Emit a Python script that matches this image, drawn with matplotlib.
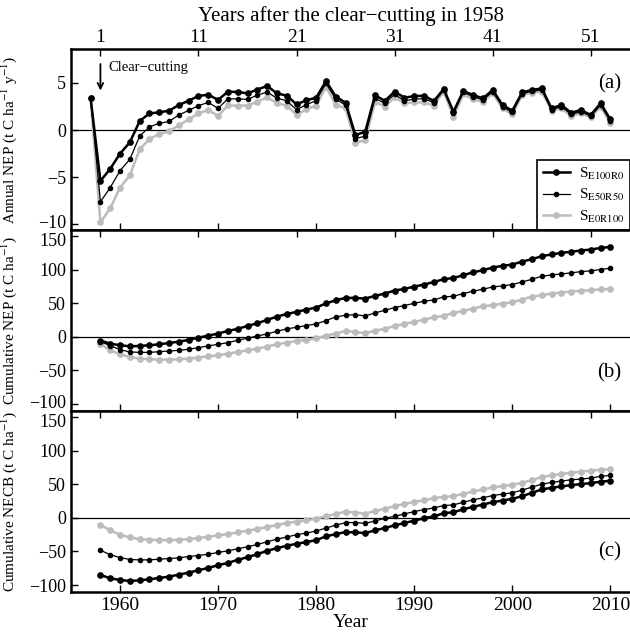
import numpy as np
import matplotlib
matplotlib.use("Agg")
import matplotlib.pyplot as plt
from matplotlib.transforms import ScaledTranslation

plt.rcParams["font.family"] = ["Liberation Serif", "DejaVu Serif"]
plt.rcParams["mathtext.fontset"] = "stix"
plt.rcParams["axes.unicode_minus"] = True

# Годы
years_a = np.arange(1957, 2011)
years_bc = np.arange(1958, 2011)

# (a) Annual NEP
nep_e100r0 = [3.4, -5.4, -4.1, -2.5, -1.3, 0.96, 1.77, 1.88, 2.06, 2.66, 3.12, 3.62, 3.76,
              3.2, 4.08, 4.04, 3.9, 4.3, 4.68, 3.9, 3.65, 2.73, 3.16,
              3.44, 5.2, 3.55, 2.9, -0.53, -0.18, 3.7, 3.1, 4.08, 3.44,
              3.6, 3.65, 3.08, 4.36, 1.95, 4.15, 3.72, 3.37, 4.25, 2.66,
              2.06, 4.0, 4.25, 4.43, 2.3, 2.66, 1.84, 2.13, 1.6, 2.84, 1.13]
nep_e50r50 = [3.4, -7.6, -6.1, -4.3, -3.1, -0.64, 0.35, 0.71, 0.92, 1.6, 2.09, 2.59, 2.94,
              2.3, 3.33, 3.3, 3.26, 3.7, 4.04, 3.37, 3.12, 2.16, 2.7,
              3.12, 4.96, 3.26, 2.66, -0.9, -0.64, 3.37, 2.84, 3.8, 3.1,
              3.3, 3.33, 2.9, 4.25, 1.77, 4.0, 3.55, 3.2, 4.08, 2.48,
              1.87, 3.86, 4.11, 4.26, 2.18, 2.48, 1.67, 1.95, 1.48, 2.66, 0.95]
nep_e0r100 = [3.37, -9.8, -8.3, -6.1, -4.8, -2.05, -0.92, -0.43, -0.1, 0.5, 1.13, 1.77, 2.13,
              1.5, 2.62, 2.6, 2.6, 3.0, 3.48, 2.84, 2.6, 1.6, 2.2,
              2.6, 4.6, 2.66, 2.3, -1.35, -1.06, 3.0, 2.5, 3.48, 2.84,
              2.94, 2.94, 2.6, 4.08, 1.42, 3.8, 3.26, 3.0, 3.9, 2.3,
              1.67, 3.72, 3.97, 4.08, 2.06, 2.3, 1.49, 1.77, 1.35, 2.48, 0.78]

# (b) Cumulative NEP
cnep_e100r0 = [-5.5, -10, -12.4, -14, -13.4, -12.4, -11, -9, -7, -4.5, -1, 2,
               5, 9, 12, 16.4, 20.4, 25.4, 30.3, 34.3, 37.3, 40.8,
               43.8, 50, 54.7, 58.2, 58.2, 57.2, 61.2, 64.7, 69.2, 71.6,
               75.1, 78.1, 82, 86, 88, 92, 96.5, 99.5, 103.5, 106,
               108, 112.4, 116, 120.4, 123, 125.4, 127, 128.9, 130.3, 132.8, 134.3]
cnep_e50r50 = [-7, -13, -19, -22.4, -23, -23, -22, -21, -20, -18.4, -16, -13.4,
               -11, -8.5, -5, -2, 1.5, 4.5, 8.5, 12, 14.4, 17,
               19.4, 24.4, 29.9, 32.3, 33.3, 31.3, 35.8, 39.8, 43.8, 46.8,
               50.2, 53.2, 55.2, 59.7, 60.7, 64.7, 68.2, 71.1, 74.6, 76.1,
               78.1, 82, 86, 90.5, 92.5, 94, 95.5, 97.5, 98.5, 100.5, 102.5]
cnep_e0r100 = [-10, -20, -26, -30, -32.3, -33.3, -33.8, -33.8, -33.3, -32.3, -30.8, -28.9,
               -27.4, -24.9, -22.4, -19.9, -17.4, -14.4, -11, -8.5, -6, -4.5,
               -2, 2, 5, 9, 7.5, 5.5, 9.5, 12, 16.4, 19.4,
               22.4, 25.9, 29.4, 31.3, 35.8, 38.8, 42.3, 45.8, 47.3, 49.8,
               51.7, 55.7, 60.2, 62.2, 64.7, 66.2, 67.7, 68.7, 69.7, 71.1, 71.6]

# (c) Cumulative NECB
necb_e100r0 = [-85, -90, -92.5, -94, -93, -91.5, -89.5, -87.5, -84.5, -81.5, -78, -74.5,
               -70.5, -67, -62.5, -58.5, -54, -49, -45, -41.5, -38.5, -36,
               -33, -27.5, -24, -21, -21.5, -22.5, -18.5, -15, -11, -7.5,
               -4, -0.5, 2.5, 7, 8.5, 13, 16.5, 20, 23.5, 26,
               28.5, 32.5, 37.5, 42.5, 45, 47, 49, 50.5, 52, 54, 55.5]
necb_e50r50 = [-48, -55, -59, -62, -62.5, -62.5, -61.5, -60.5, -59.5, -57.5, -56, -54,
               -51.5, -49, -46, -43, -39.5, -35.5, -31.5, -28.5, -25, -22.5,
               -19.5, -15, -10.8, -7, -6.8, -8, -4.5, -0.5, 2.5, 6,
               9.5, 12.5, 15, 18.5, 19.5, 23.5, 27, 30, 33.5, 35.5,
               37.5, 41.5, 46, 50.5, 53, 55, 57, 58, 59.5, 62, 63.5]
necb_e0r100 = [-10, -18.5, -25, -29, -31.5, -32.5, -33, -33, -32.5, -31.5, -30, -28,
               -26, -24, -21.5, -19, -16.5, -13.5, -10.5, -7.5, -5.5, -3.5,
               -1, 2.5, 6, 9.5, 8, 6.5, 10, 14, 17.5, 21,
               24, 26.5, 29.5, 31.5, 32.5, 36, 39.5, 42.5, 45.5, 47.5,
               49.5, 52.5, 56.5, 61, 63.5, 65.5, 67.5, 69, 70.5, 72, 72.5]

labels = [r"S$_{\mathrm{E100R0}}$", r"S$_{\mathrm{E50R50}}$", r"S$_{\mathrm{E0R100}}$"]
gray = "#bcbcbc"
styles = [dict(color="black", lw=1.8, marker="o", ms=3.8, zorder=4),
          dict(color="black", lw=0.9, marker="o", ms=3.0, zorder=3),
          dict(color=gray, lw=1.8, marker="o", ms=3.8, zorder=2)]

fig = plt.figure(figsize=(6.3, 6.39), dpi=100)
left, width, h = 0.1127, 0.8873, 0.2833
ax_a = fig.add_axes([left, 0.6400, width, h])
ax_b = fig.add_axes([left, 0.3573, width, h])
ax_c = fig.add_axes([left, 0.0740, width, h])

series = [
    (ax_a, years_a, [nep_e0r100, nep_e50r50, nep_e100r0]),
    (ax_b, years_bc, [cnep_e0r100, cnep_e50r50, cnep_e100r0]),
    (ax_c, years_bc, [necb_e0r100, necb_e50r50, necb_e100r0]),
]

for ax, yrs, vals in series:
    for v, st in zip(vals, styles[::-1]):
        ax.plot(yrs, v, **st)
    ax.axhline(0, color="black", lw=0.9, zorder=1)
    ax.set_xlim(1955, 2012)
    ax.set_xticks([1960, 1970, 1980, 1990, 2000, 2010])
    ax.tick_params(direction="in", labelsize=14, length=5, width=1)
    ax.tick_params(axis="y", labelsize=13)
    for s in ["top", "bottom", "left"]:
        ax.spines[s].set_linewidth(1.8)
    ax.spines["right"].set_visible(False)
    sec = ax.secondary_xaxis("top", functions=(lambda x: x - 1957, lambda x: x + 1957))
    sec.set_xticks([1, 11, 21, 31, 41, 51])
    sec.tick_params(direction="in", length=5, width=1, labelsize=14, pad=2)
    if ax is ax_a:
        sec.set_xlabel("Years after the clear\u2212cutting in 1958", fontsize=15, labelpad=6)
    else:
        sec.tick_params(labeltop=False)
    if ax is not ax_c:
        ax.tick_params(labelbottom=False)

ax_a.set_ylim(-10.6, 8.6)
ax_a.set_yticks([-10, -5, 0, 5])
for ax in (ax_b, ax_c):
    ax.set_ylim(-110, 160)
    ax.set_yticks([-100, -50, 0, 50, 100, 150])

# чуть разводим соседние подписи на стыках панелей
for ax, idx, dy in [(ax_a, 0, 2), (ax_b, 0, 2), (ax_b, -1, -2), (ax_c, -1, -2)]:
    lab = ax.get_yticklabels()[idx]
    lab.set_transform(lab.get_transform() + ScaledTranslation(0, dy / 72, fig.dpi_scale_trans))

ax_a.set_ylabel(r"Annual NEP (t C ha$^{-1}$ y$^{-1}$)", fontsize=11)
ax_b.set_ylabel(r"Cumulative NEP (t C ha$^{-1}$)", fontsize=11)
ax_c.set_ylabel(r"Cumulative NECB (t C ha$^{-1}$)", fontsize=11)
for ax in (ax_a, ax_b, ax_c):
    ax.yaxis.set_label_coords(-0.093, 0.5)
ax_c.set_xlabel("Year", fontsize=14, labelpad=0)

ax_a.text(0.985, 0.81, "(a)", transform=ax_a.transAxes, ha="right", va="center", fontsize=15)
ax_b.text(0.985, 0.21, "(b)", transform=ax_b.transAxes, ha="right", va="center", fontsize=15)
ax_c.text(0.985, 0.22, "(c)", transform=ax_c.transAxes, ha="right", va="center", fontsize=15)

# Стрелка вырубки
ax_a.annotate("", xy=(1958, 3.9), xytext=(1958, 7.3),
              arrowprops=dict(arrowstyle="->", lw=1.3, color="black"))
ax_a.text(1958.8, 6.6, "Clear\u2212cutting", fontsize=10.5, va="center")

# Легенда
handles = ax_a.get_lines()[:3][::-1]
leg = ax_a.legend(handles, labels, loc="lower right", bbox_to_anchor=(1.0, 0.0),
                  borderaxespad=0, fontsize=11, fancybox=False, framealpha=1,
                  edgecolor="black", handlelength=1.8, handletextpad=0.6,
                  borderpad=0.35, labelspacing=0.35)
leg.get_frame().set_linewidth(1.2)

fig.savefig("out.png", dpi=100)
